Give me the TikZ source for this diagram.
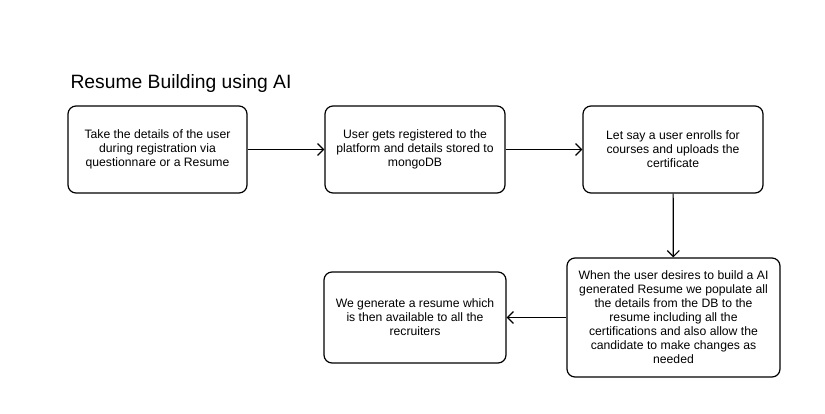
\documentclass[tikz,border=0pt]{standalone}
\usepackage{fontspec}
\setmainfont{Liberation Sans}
\usetikzlibrary{arrows.meta,positioning}

\begin{document}
\begin{tikzpicture}[x=1pt,y=-1pt,
   block/.style={draw,rounded corners=8pt,line width=1.2pt,align=center,
      inner sep=0pt,font=\fontsize{12.2}{14}\selectfont},
   flow/.style={line width=1.2pt,-{Straight Barb[length=6pt,width=12pt]}}]
\useasboundingbox[fill=white] (0,0) rectangle (825,413);
\node[anchor=base west,font=\fontsize{19.3}{22}\selectfont] (title) at (67,88) {Resume Building using AI};
\node[block,minimum width=179pt,minimum height=87pt] (details) at (157.5,149.5)
   {Take the details of the user\\during registration via\\questionnare or a Resume};
\node[block,minimum width=180pt,minimum height=87pt] (register) at (415,149.5)
   {User gets registered to the\\platform and details stored to\\mongoDB};
\node[block,minimum width=180pt,minimum height=87pt] (enroll) at (673,149.5)
   {Let say a user enrolls for\\courses and uploads the\\certificate};
\node[block,minimum width=213pt,minimum height=119pt] (populate) at (673.5,317.5)
   {When the user desires to build a AI\\generated Resume we populate all\\the details from the DB to the\\resume including all the\\certifications and also allow the\\candidate to make changes as\\needed};
\node[block,minimum width=182pt,minimum height=91pt] (generate) at (415,317.5)
   {We generate a resume which\\is then available to all the\\recruiters};
% connectors
\draw[flow] (details) -- (register);
\draw[flow] (register) -- (enroll);
\draw[flow] (enroll) -- (populate);
\draw[flow] (populate) -- (generate);
\end{tikzpicture}
\end{document}
